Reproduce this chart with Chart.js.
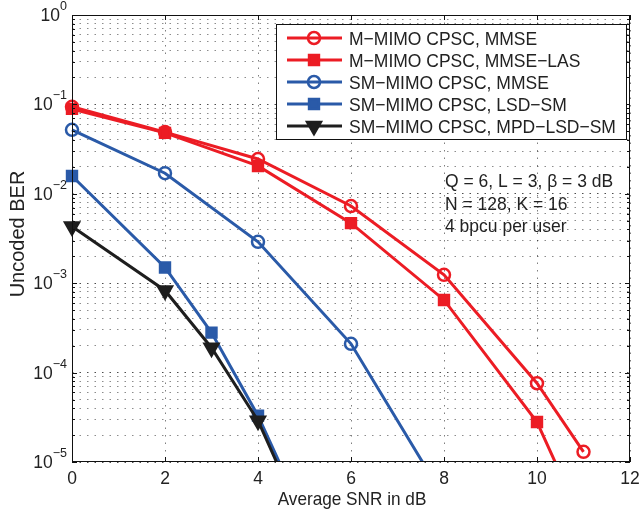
<!DOCTYPE html>
<html>
<head>
<meta charset="utf-8">
<script src="https://cdn.jsdelivr.net/npm/chart.js@4.4.1/dist/chart.umd.min.js"></script>
<style>
  html, body { margin: 0; padding: 0; background: #fff; }
  #wrap { width: 642px; height: 509px; }
</style>
</head>
<body>
<div id="wrap"><canvas id="ber-chart" width="642" height="509"></canvas></div>
<script>
// values (x = average SNR in dB, y = uncoded BER)
const mmseSnr = [0, 2, 4, 6, 8, 10, 11];
const mmseBer = [0.094, 0.049, 0.0245, 0.0073, 0.00124, 7.6e-5, 1.3e-5];

const lasSnr = [0, 2, 4, 6, 8, 10, 11];
const lasBer = [0.089, 0.048, 0.0205, 0.0047, 6.5e-4, 2.8e-5, 2e-6];

const smMmseSnr = [0, 2, 4, 6, 8];
const smMmseBer = [0.052, 0.017, 0.0029, 2.1e-4, 4e-6];

const lsdSnr = [0, 2, 3, 4, 5];
const lsdBer = [0.0158, 0.0015, 2.8e-4, 3.3e-5, 2.4e-6];

const mpdSnr = [0, 2, 3, 4, 5];
const mpdBer = [0.0043, 8.3e-4, 1.9e-4, 2.9e-5, 2e-6];

const seriesNames = [
  'M\u2212MIMO CPSC, MMSE',
  'M\u2212MIMO CPSC, MMSE\u2212LAS',
  'SM\u2212MIMO CPSC, MMSE',
  'SM\u2212MIMO CPSC, LSD\u2212SM',
  'SM\u2212MIMO CPSC, MPD\u2212LSD\u2212SM'
];
const xTicks = [0, 2, 4, 6, 8, 10, 12];
const yExponents = [-5, -4, -3, -2, -1, 0];
const minorSteps = [2, 3, 4, 5, 6, 7, 8, 9];
const noteLines = ['Q = 6, L = 3, \u03b2 = 3 dB', 'N = 128, K = 16', '4 bpcu per user'];
const xTitle = 'Average SNR in dB';
const yTitle = 'Uncoded BER';

const RED = '#ec1c24';
const BLUE = '#2a5aa8';
const BLACK = '#1e1e1e';
const TEXT = '#222';
const FONT = '"Liberation Sans", Arial, Helvetica, sans-serif';

function toPoints(xs, ys) {
  return xs.map((x, i) => ({ x, y: ys[i] }));
}

function series(idx, xs, ys, color, style) {
  return {
    label: seriesNames[idx],
    data: toPoints(xs, ys),
    borderColor: color,
    borderWidth: 3,
    pointStyle: style.shape,
    pointRadius: style.radius,
    pointRotation: style.rotation || 0,
    pointBorderWidth: 2.5,
    pointBorderColor: color,
    pointBackgroundColor: style.filled ? color : 'rgba(255,255,255,0)',
    tension: 0,
    order: 5 - idx,
    clip: { left: 12, top: 0, right: 0, bottom: 0 }
  };
}

const datasets = [
  series(0, mmseSnr, mmseBer, RED, { shape: 'circle', radius: 6 }),
  series(1, lasSnr, lasBer, RED, { shape: 'rect', radius: 7, filled: true }),
  series(2, smMmseSnr, smMmseBer, BLUE, { shape: 'circle', radius: 6 }),
  series(3, lsdSnr, lsdBer, BLUE, { shape: 'rect', radius: 7, filled: true }),
  series(4, mpdSnr, mpdBer, BLACK, { shape: 'triangle', radius: 8, rotation: 180, filled: true })
];

// draws one piece of text; stretch > 1 makes the glyphs a little taller than wide
function label(ctx, text, x, y, size, align, opts = {}) {
  const stretch = opts.stretch || 1;
  ctx.save();
  ctx.translate(x, y);
  if (opts.rotated) ctx.rotate(-Math.PI / 2);
  ctx.scale(1, stretch);
  ctx.font = size + 'px ' + FONT;
  ctx.textAlign = align;
  ctx.textBaseline = 'alphabetic';
  ctx.fillText(text, 0, 0);
  const w = ctx.measureText(text).width;
  ctx.restore();
  return w;
}

// box, inner tick marks, all lettering, legend and note
const decorPlugin = {
  id: 'decor',
  afterDraw(chart) {
    const { ctx, chartArea: a, scales } = chart;
    const xs = scales.x;
    const ys = scales.y;
    ctx.save();

    ctx.strokeStyle = '#111';
    ctx.lineWidth = 1;
    ctx.strokeRect(a.left + 0.5, a.top + 0.5, a.right - a.left - 1, a.bottom - a.top - 1);

    ctx.beginPath();
    xTicks.forEach(v => {
      const px = Math.round(xs.getPixelForValue(v)) + 0.5;
      ctx.moveTo(px, a.bottom); ctx.lineTo(px, a.bottom - 5);
      ctx.moveTo(px, a.top); ctx.lineTo(px, a.top + 5);
    });
    yExponents.forEach(e => {
      const py = Math.round(ys.getPixelForValue(Math.pow(10, e))) + 0.5;
      ctx.moveTo(a.left, py); ctx.lineTo(a.left + 5, py);
      ctx.moveTo(a.right, py); ctx.lineTo(a.right - 5, py);
      if (e < 0) {
        minorSteps.forEach(m => {
          const pm = Math.round(ys.getPixelForValue(m * Math.pow(10, e))) + 0.5;
          ctx.moveTo(a.left, pm); ctx.lineTo(a.left + 3, pm);
          ctx.moveTo(a.right, pm); ctx.lineTo(a.right - 3, pm);
        });
      }
    });
    ctx.stroke();

    ctx.fillStyle = TEXT;

    // x tick labels and title
    xTicks.forEach(v => label(ctx, String(v), xs.getPixelForValue(v), 484, 17.5, 'center'));
    label(ctx, xTitle, (a.left + a.right) / 2 + 1, 505, 17.2, 'center', { stretch: 1.08 });

    // y tick labels 10^e and title
    yExponents.forEach(e => {
      const py = ys.getPixelForValue(Math.pow(10, e));
      const sup = e < 0 ? '\u2212' + Math.abs(e) : String(e);
      const supW = label(ctx, sup, 67, py - 5, 12.5, 'right');
      label(ctx, '10', 67 - supW, py + 6, 17.5, 'right');
    });
    label(ctx, yTitle, 24, 234, 20, 'center', { rotated: true });

    // legend
    const lx = 276, ly = 24, lw = 350, lh = 115;
    ctx.fillStyle = '#fff';
    ctx.fillRect(lx, ly, lw, lh);
    ctx.strokeStyle = '#111';
    ctx.lineWidth = 1;
    ctx.strokeRect(lx + 0.5, ly + 0.5, lw, lh);
    chart.data.datasets.forEach((ds, i) => {
      const ry = 38 + i * 22;
      ctx.strokeStyle = ds.borderColor;
      ctx.lineWidth = ds.borderWidth;
      ctx.beginPath();
      ctx.moveTo(287, ry); ctx.lineTo(342, ry);
      ctx.stroke();
      ctx.fillStyle = ds.pointBackgroundColor;
      ctx.lineWidth = ds.pointBorderWidth;
      Chart.helpers.drawPoint(ctx, {
        pointStyle: ds.pointStyle,
        radius: ds.pointRadius,
        rotation: ds.pointRotation,
        borderWidth: ds.pointBorderWidth
      }, 314, ry);
      ctx.fillStyle = TEXT;
      label(ctx, ds.label, 349, ry + 7, 17.5, 'left', { stretch: 1.06 });
    });

    // annotation
    noteLines.forEach((t, i) => label(ctx, t, 445, 187 + i * 22.5, 17.5, 'left', { stretch: 1.06 }));

    ctx.restore();
  }
};

const gridColor = c => (c.tick && c.tick.major ? 'rgba(0,0,0,0.7)' : 'rgba(0,0,0,0.45)');

new Chart(document.getElementById('ber-chart'), {
  type: 'line',
  data: { datasets },
  options: {
    responsive: false,
    animation: false,
    layout: { padding: { top: 15, right: 12, left: 0, bottom: 0 } },
    plugins: {
      legend: { display: false },
      tooltip: { enabled: false }
    },
    scales: {
      x: {
        type: 'linear',
        min: 0,
        max: 12,
        afterFit: scale => { scale.height = 47; },
        afterBuildTicks: scale => { scale.ticks = xTicks.map(v => ({ value: v })); },
        grid: { color: 'rgba(0,0,0,0.5)', lineWidth: 1, drawTicks: false },
        border: { display: false, dash: [1.5, 6] },
        ticks: { display: false }
      },
      y: {
        type: 'logarithmic',
        min: 1e-5,
        max: 1,
        afterFit: scale => { scale.width = 72; },
        afterBuildTicks: scale => {
          const ticks = [];
          yExponents.forEach(e => {
            ticks.push({ value: Math.pow(10, e), major: true });
            if (e < 0) minorSteps.forEach(m => ticks.push({ value: m * Math.pow(10, e), major: false }));
          });
          scale.ticks = ticks;
        },
        grid: { color: gridColor, lineWidth: 1, drawTicks: false },
        border: { display: false, dash: [1.5, 6] },
        ticks: { display: false, autoSkip: false }
      }
    }
  },
  plugins: [decorPlugin]
});
</script>
</body>
</html>
